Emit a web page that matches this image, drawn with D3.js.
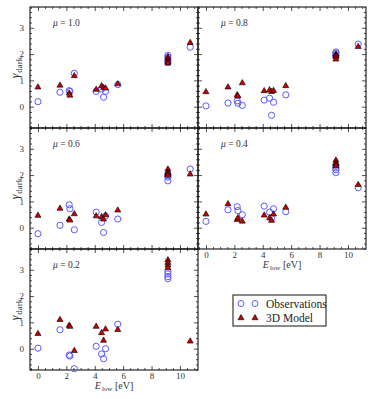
<!DOCTYPE html>
<html>
<head>
<meta charset="utf-8">
<script src="https://cdn.jsdelivr.net/npm/d3@7"></script>
<style>
body { margin: 0; background: #fff; }
text { font-family: "Liberation Serif", "DejaVu Serif", serif; }
.tick text { fill: #333; font-size: 9px; }
</style>
</head>
<body>
<script>
// line energies (eV), same for every panel
var energies = [0, 1.55, 2.2, 2.25, 2.56, 4.1, 4.48, 4.62, 4.76, 5.62, 9.15, 9.15, 9.15, 9.15, 10.72];
var muLabels = ["1.0", "0.8", "0.6", "0.4", "0.2"];

var obs10 = [0.19, 0.55, 0.61, 0.58, 1.27, 0.58, 0.67, 0.36, 0.58, 0.84, 1.95, 1.88, 1.75, 1.68, 2.26];
var mod10 = [0.74, 0.81, 0.51, 0.43, 1.17, 0.65, 0.79, 0.72, 0.70, 0.86, 1.89, 1.80, 1.70, 1.65, 2.43];
var obs08 = [0.03, 0.14, 0.22, 0.13, 0.05, 0.25, 0.32, -0.33, 0.17, 0.45, 2.08, 2.03, 1.97, 1.93, 2.38];
var mod08 = [0.56, 0.74, 0.44, 0.40, 0.90, 0.60, 0.63, 0.57, 0.61, 0.79, 1.99, 1.94, 1.90, 1.80, 2.28];
var obs06 = [-0.23, 0.09, 0.87, 0.72, -0.08, 0.59, 0.20, -0.18, 0.44, 0.33, 2.04, 1.98, 1.92, 1.78, 2.23];
var mod06 = [0.46, 0.73, 0.32, 0.28, 0.52, 0.44, 0.41, 0.32, 0.48, 0.66, 2.22, 2.10, 2.05, 1.99, 2.03];
var obs04 = [0.24, 0.68, 0.80, 0.65, 0.49, 0.82, 0.59, 0.35, 0.72, 0.61, 2.38, 2.27, 2.20, 2.09, 1.52];
var mod04 = [0.51, 0.90, 0.30, 0.37, 0.24, 0.47, 0.37, 0.27, 0.51, 0.77, 2.56, 2.45, 2.40, 2.34, 1.63];
var obs02 = [0.02, 0.72, -0.24, -0.28, -0.76, 0.09, -0.20, -0.38, 0.00, 0.93, 2.94, 2.84, 2.74, 2.66, null];
var mod02 = [0.57, 1.10, 0.88, 0.84, -0.08, 0.84, 0.60, 0.31, 0.74, 0.72, 3.37, 3.27, 3.17, 3.07, 0.28];

var xMajor = [0, 2, 4, 6, 8, 10];
var yMajor = [0, 1, 2, 3];

var obsSets = [obs10, obs08, obs06, obs04, obs02];
var modSets = [mod10, mod08, mod06, mod04, mod02];

var W = 374, H = 399;
var pw = 168, ph = 121;
var colX = [30, 198], rowY = [7, 128, 249];

var svg = d3.select("body").append("svg")
    .attr("width", W)
    .attr("height", H);

var x = d3.scaleLinear().domain([-0.56, 11.27]).range([0, pw]);
var y = d3.scaleLinear().domain([-0.81, 3.79]).range([ph, 0]);

var xMinor = d3.range(-0.5, 11.3, 0.5).filter(d => xMajor.indexOf(d) < 0);
var yMinor = d3.range(-0.8, 3.8, 0.2).map(d => +d.toFixed(1)).filter(d => yMajor.indexOf(d) < 0);

var blue = "#5a5aff", red = "#c80000";
var tri = d3.symbol().type(d3.symbolTriangle).size(16);

function cleanAxis(g) {
    g.select(".domain").remove();
    g.selectAll(".tick line").attr("stroke", "#222").attr("stroke-width", 0.8);
}

muLabels.forEach(function(mu, i) {
    var col = i % 2, row = Math.floor(i / 2);
    var showX = (i == 3 || i == 4);
    var g = svg.append("g")
        .attr("transform", "translate(" + colX[col] + "," + rowY[row] + ")");

    // ticks on all sides, pointing in
    g.append("g").attr("transform", "translate(0," + ph + ")")
        .call(d3.axisBottom(x).tickValues(xMajor).tickSizeInner(-4).tickPadding(3)
            .tickFormat(showX ? d3.format("d") : ""))
        .call(cleanAxis);
    g.append("g").attr("transform", "translate(0," + ph + ")")
        .call(d3.axisBottom(x).tickValues(xMinor).tickSize(-2).tickFormat(""))
        .call(cleanAxis);
    g.append("g")
        .call(d3.axisTop(x).tickValues(xMajor).tickSize(-4).tickFormat(""))
        .call(cleanAxis);
    g.append("g")
        .call(d3.axisTop(x).tickValues(xMinor).tickSize(-2).tickFormat(""))
        .call(cleanAxis);
    g.append("g")
        .call(d3.axisLeft(y).tickValues(yMajor).tickSizeInner(-4).tickPadding(6)
            .tickFormat(col == 0 ? d3.format("d") : ""))
        .call(cleanAxis);
    g.append("g")
        .call(d3.axisLeft(y).tickValues(yMinor).tickSize(-2).tickFormat(""))
        .call(cleanAxis);
    g.append("g").attr("transform", "translate(" + pw + ",0)")
        .call(d3.axisRight(y).tickValues(yMajor).tickSize(-4).tickFormat(""))
        .call(cleanAxis);
    g.append("g").attr("transform", "translate(" + pw + ",0)")
        .call(d3.axisRight(y).tickValues(yMinor).tickSize(-2).tickFormat(""))
        .call(cleanAxis);

    g.append("rect")
        .attr("width", pw).attr("height", ph)
        .attr("fill", "none")
        .attr("stroke", "#111")
        .attr("stroke-width", 1.1);

    var pts = energies.map(function(e, j) {
        return {e: e, obs: obsSets[i][j], mod: modSets[i][j]};
    });

    g.selectAll(".obs")
        .data(pts.filter(d => d.obs != null))
        .enter()
        .append("circle")
        .attr("class", "obs")
        .attr("cx", d => x(d.e))
        .attr("cy", d => y(d.obs))
        .attr("r", 3.1)
        .attr("fill", "none")
        .attr("stroke", blue)
        .attr("stroke-width", 1);

    g.selectAll(".mod")
        .data(pts)
        .enter()
        .append("path")
        .attr("class", "mod")
        .attr("d", tri)
        .attr("transform", d => "translate(" + x(d.e) + "," + y(d.mod) + ")")
        .attr("fill", red)
        .attr("stroke", "#000")
        .attr("stroke-width", 0.6);

    var lab = g.append("text")
        .attr("x", 23)
        .attr("y", 19)
        .attr("font-size", 9.5)
        .attr("fill", "#333");
    lab.append("tspan").attr("font-style", "italic").text("\u03bc");
    lab.append("tspan").text(" = " + mu);

    if (col == 0) {
        var yl = svg.append("text")
            .attr("transform", "translate(" + 19 + "," + (rowY[row] + ph / 2) + ") rotate(-90)")
            .attr("text-anchor", "middle")
            .attr("font-size", 12)
            .attr("fill", "#333");
        yl.append("tspan").attr("font-style", "italic").text("\u03b3");
        yl.append("tspan").attr("font-size", 9).attr("dy", 3).attr("dx", 1).text("dark");
    }

    if (showX) {
        var xl = g.append("text")
            .attr("x", pw / 2)
            .attr("y", ph + 19)
            .attr("text-anchor", "middle")
            .attr("font-size", 10)
            .attr("fill", "#333");
        xl.append("tspan").attr("font-style", "italic").text("E");
        xl.append("tspan").attr("font-size", 7).attr("dy", 2).attr("dx", 1).text("low");
        xl.append("tspan").attr("dy", -2).text(" [eV]");
    }
});

// legend
var legend = svg.append("g").attr("transform", "translate(233,295)");
legend.append("rect")
    .attr("width", 93).attr("height", 31)
    .attr("fill", "#fff")
    .attr("stroke", "#111")
    .attr("stroke-width", 1);
[8, 22].forEach(function(lx) {
    legend.append("circle")
        .attr("cx", lx).attr("cy", 8.5).attr("r", 3)
        .attr("fill", "none").attr("stroke", blue).attr("stroke-width", 1);
    legend.append("path")
        .attr("d", tri)
        .attr("transform", "translate(" + lx + ",23)")
        .attr("fill", red).attr("stroke", "#000").attr("stroke-width", 0.6);
});
legend.append("text").attr("x", 33).attr("y", 12.5)
    .attr("font-size", 11.5).attr("fill", "#222").text("Observations");
legend.append("text").attr("x", 33).attr("y", 27)
    .attr("font-size", 11.5).attr("fill", "#222").text("3D Model");
</script>
</body>
</html>
